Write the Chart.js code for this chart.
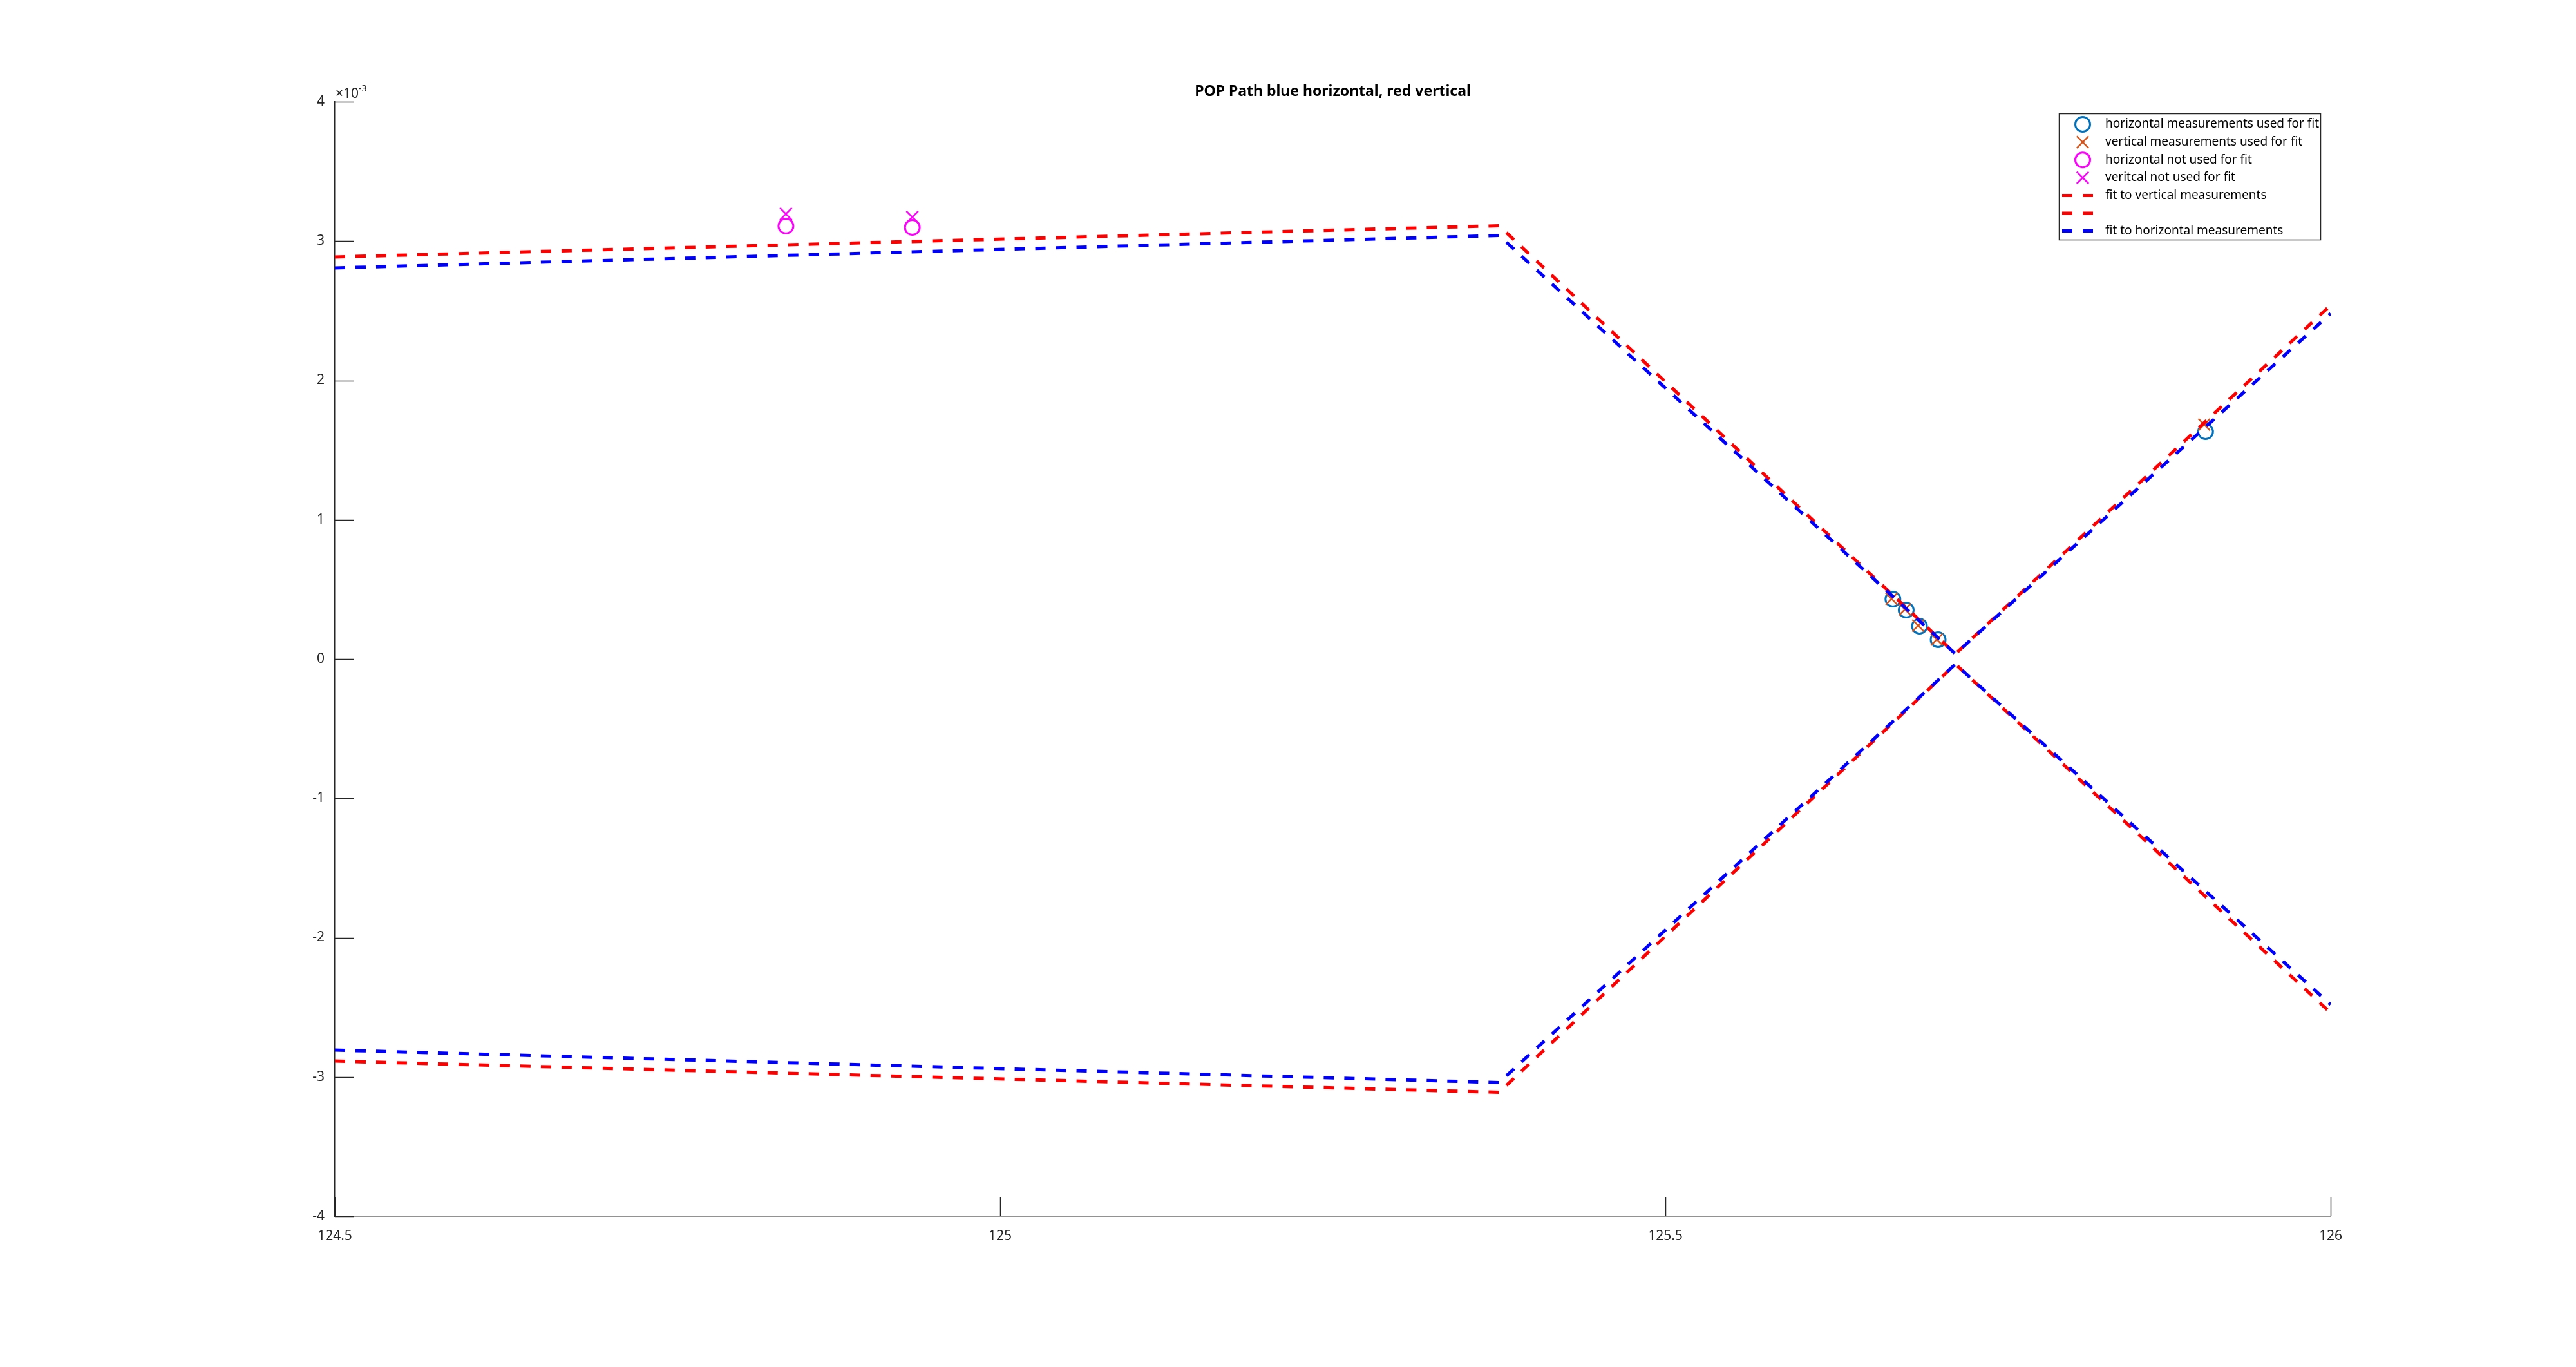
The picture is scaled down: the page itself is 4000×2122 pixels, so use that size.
<!DOCTYPE html>
<html>
<head>
<meta charset="utf-8">
<script src="https://cdn.jsdelivr.net/npm/chart.js@4/dist/chart.umd.min.js"></script>
<style>
  html, body { margin: 0; padding: 0; background: #fff; }
  #wrap { width: 4000px; height: 2122px; position: relative; }
</style>
</head>
<body>
<div id="wrap"><canvas id="chart"></canvas></div>
<script>
// =====================
// DATA (y values in units of 1e-3)
// =====================
const fitX = [124.5, 125.375, 125.718, 126];
const fitVertUpper = [2.886, 3.11, 0.037, 2.54];
const fitVertLower = [-2.886, -3.11, -0.037, -2.54];
const fitHorUpper = [2.807, 3.04, 0.037, 2.48];
const fitHorLower = [-2.807, -3.04, -0.037, -2.48];

const horUsedX = [125.671, 125.681, 125.691, 125.705, 125.906];
const horUsedY = [0.430, 0.351, 0.236, 0.139, 1.632];
const vertUsedX = [125.670, 125.680, 125.690, 125.704, 125.905];
const vertUsedY = [0.432, 0.356, 0.240, 0.140, 1.683];

const horNotX = [124.839, 124.934];
const horNotY = [3.108, 3.098];
const vertNotX = [124.839, 124.934];
const vertNotY = [3.195, 3.172];

const xTicks = [124.5, 125, 125.5, 126];
const yTicks = [-4, -3, -2, -1, 0, 1, 2, 3, 4];

const AXIS = '#262626';
const FONT = "'Noto Sans', 'Open Sans', sans-serif";

function pts(xs, ys) { return xs.map((x, i) => ({ x: x, y: ys[i] })); }

// blue fit is one line with a gap between the two branches
const blueData = pts(fitX, fitHorUpper).concat([{ x: 126, y: null }], pts(fitX, fitHorLower));

const dashed = { showLine: true, borderWidth: 5, borderDash: [16, 16], pointRadius: 0, fill: false, spanGaps: false };

const datasets = [
  { label: 'horizontal measurements used for fit', data: pts(horUsedX, horUsedY), mk: 'circle',
    borderColor: '#0072BD', backgroundColor: 'rgba(0,0,0,0)', pointRadius: 11.5, pointBorderWidth: 3, order: 7 },
  { label: 'vertical measurements used for fit', data: pts(vertUsedX, vertUsedY), mk: 'x',
    pointStyle: 'crossRot', borderColor: '#D95319', backgroundColor: '#D95319', pointRadius: 13, pointBorderWidth: 2.5, order: 6 },
  { label: 'horizontal not used for fit', data: pts(horNotX, horNotY), mk: 'circle',
    borderColor: '#FF00FF', backgroundColor: 'rgba(0,0,0,0)', pointRadius: 11.5, pointBorderWidth: 3, order: 5 },
  { label: 'veritcal not used for fit', data: pts(vertNotX, vertNotY), mk: 'x',
    pointStyle: 'crossRot', borderColor: '#FF00FF', backgroundColor: '#FF00FF', pointRadius: 13, pointBorderWidth: 2.5, order: 4 },
  Object.assign({ label: 'fit to vertical measurements', data: pts(fitX, fitVertUpper), mk: 'line',
    borderColor: '#FF0000', order: 3 }, dashed),
  Object.assign({ label: '', data: pts(fitX, fitVertLower), mk: 'line',
    borderColor: '#FF0000', order: 2 }, dashed),
  Object.assign({ label: 'fit to horizontal measurements', data: blueData, mk: 'line',
    borderColor: '#0000FF', order: 1 }, dashed)
];

// =====================
// PLUGINS
// =====================
// ticks pointing inward + x10^-3 label
const axisDecor = {
  id: 'axisDecor',
  afterDraw(chart) {
    const ctx = chart.ctx, ca = chart.chartArea;
    const xs = chart.scales.x, ys = chart.scales.y;
    ctx.save();
    ctx.strokeStyle = AXIS;
    ctx.lineWidth = 1.5;
    ctx.beginPath();
    xTicks.forEach(v => {
      const px = Math.round(xs.getPixelForValue(v)) + 0.5;
      ctx.moveTo(px, ca.bottom); ctx.lineTo(px, ca.bottom - 30);
    });
    yTicks.forEach(v => {
      const py = Math.round(ys.getPixelForValue(v)) + 0.5;
      ctx.moveTo(ca.left, py); ctx.lineTo(ca.left + 30, py);
    });
    ctx.stroke();

    ctx.fillStyle = AXIS;
    ctx.textBaseline = 'alphabetic';
    ctx.textAlign = 'left';
    ctx.font = '21px ' + FONT;
    const base = ca.top - 6;
    ctx.fillText('\u00d710', ca.left + 1, base);
    const w = ctx.measureText('\u00d710').width;
    ctx.font = '14px ' + FONT;
    ctx.fillText('-3', ca.left + 1 + w, base - 10);
    ctx.restore();
  }
};

// legend box inside the plot, top right
const boxLegend = {
  id: 'boxLegend',
  afterDraw(chart) {
    const ctx = chart.ctx, ca = chart.chartArea;
    const bx = ca.right - 422, by = ca.top + 18, bw = 406, bh = 196;
    const row = 27.6;
    ctx.save();
    ctx.fillStyle = '#fff';
    ctx.fillRect(bx, by, bw, bh);
    ctx.strokeStyle = AXIS;
    ctx.lineWidth = 1.5;
    ctx.strokeRect(bx + 0.5, by + 0.5, bw, bh);

    chart.data.datasets.forEach((ds, i) => {
      const cy = by + 17 + i * row;
      const mx = bx + 37;
      ctx.strokeStyle = ds.borderColor;
      if (ds.mk === 'circle') {
        ctx.lineWidth = ds.pointBorderWidth;
        ctx.beginPath();
        ctx.arc(mx, cy, ds.pointRadius, 0, Math.PI * 2);
        ctx.stroke();
      } else if (ds.mk === 'x') {
        const r = ds.pointRadius * Math.SQRT1_2;
        ctx.lineWidth = ds.pointBorderWidth;
        ctx.beginPath();
        ctx.moveTo(mx - r, cy - r); ctx.lineTo(mx + r, cy + r);
        ctx.moveTo(mx - r, cy + r); ctx.lineTo(mx + r, cy - r);
        ctx.stroke();
      } else {
        ctx.lineWidth = ds.borderWidth;
        ctx.setLineDash(ds.borderDash);
        ctx.beginPath();
        ctx.moveTo(bx + 5, cy); ctx.lineTo(bx + 53, cy);
        ctx.stroke();
        ctx.setLineDash([]);
      }
      ctx.fillStyle = '#000';
      ctx.font = '19px ' + FONT;
      ctx.textBaseline = 'middle';
      ctx.textAlign = 'left';
      ctx.fillText(ds.label, bx + 72, cy);
    });
    ctx.restore();
  }
};

// =====================
// CHART
// =====================
new Chart(document.getElementById('chart'), {
  type: 'scatter',
  data: { datasets: datasets },
  options: {
    responsive: true,
    maintainAspectRatio: false,
    animation: false,
    layout: { padding: { left: 0, right: 381, top: 0, bottom: 0 } },
    plugins: {
      legend: { display: false },
      tooltip: { enabled: false },
      title: {
        display: true,
        fullSize: false,
        text: 'POP Path blue horizontal, red vertical',
        color: '#000',
        font: { family: FONT, size: 23, weight: 'bold' },
        padding: { top: 128.2, bottom: 2.2 }
      }
    },
    scales: {
      x: {
        type: 'linear',
        min: 124.5, max: 126,
        afterFit(s) { s.height = 234; },
        afterBuildTicks(s) { s.ticks = xTicks.map(v => ({ value: v })); },
        grid: { display: false },
        border: { display: true, color: AXIS, width: 1.5 },
        ticks: { color: AXIS, padding: 10, font: { family: FONT, size: 21 }, maxRotation: 0,
          callback: v => String(v) }
      },
      y: {
        type: 'linear',
        min: -4, max: 4,
        afterFit(s) { s.width = 520; },
        afterBuildTicks(s) { s.ticks = yTicks.map(v => ({ value: v })); },
        grid: { display: false },
        border: { display: true, color: AXIS, width: 1.5 },
        ticks: { color: AXIS, padding: 8, font: { family: FONT, size: 21 },
          callback: v => String(v) }
      }
    }
  },
  plugins: [axisDecor, boxLegend]
});
</script>
</body>
</html>
